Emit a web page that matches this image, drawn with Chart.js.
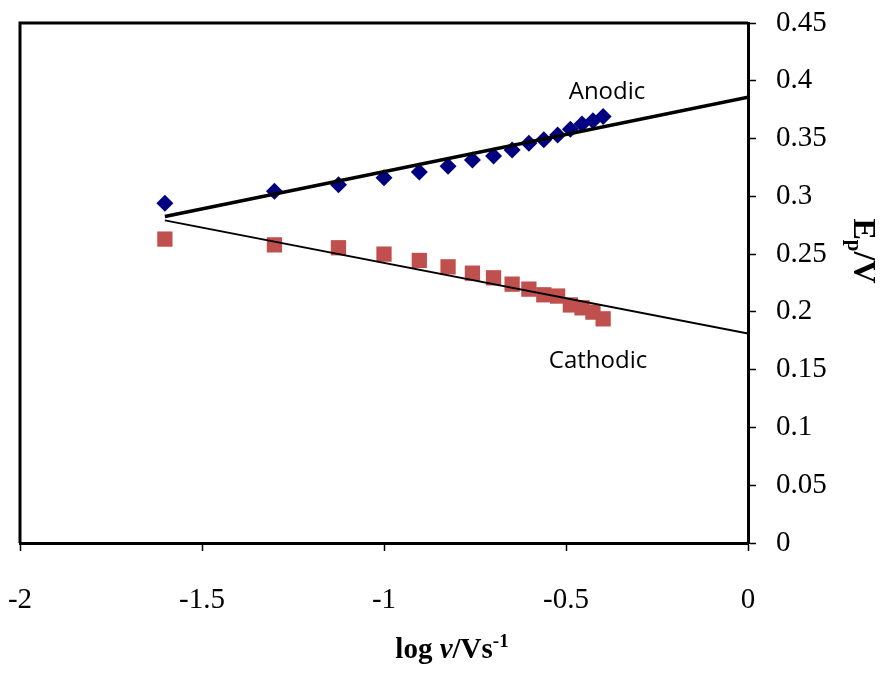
<!DOCTYPE html>
<html>
<head>
<meta charset="utf-8">
<script src="https://cdn.jsdelivr.net/npm/chart.js@4/dist/chart.umd.min.js"></script>
<style>
  html, body { margin: 0; padding: 0; background: #fff; }
  #wrap { width: 882px; height: 673px; position: relative; }
</style>
</head>
<body>
<div id="wrap"><canvas id="c" width="882" height="673"></canvas></div>
<script>
// ---- data ----
const logScanRate = [-1.602, -1.301, -1.125, -1.0, -0.903, -0.824, -0.757, -0.699, -0.648, -0.602, -0.561, -0.523, -0.488, -0.456, -0.426, -0.398];
const anodicEp    = [0.294, 0.3045, 0.310, 0.316, 0.321, 0.326, 0.3315, 0.335, 0.340, 0.346, 0.349, 0.353, 0.358, 0.3625, 0.3655, 0.369];
const cathodicEp  = [0.263, 0.258, 0.2555, 0.250, 0.2445, 0.239, 0.2335, 0.2295, 0.224, 0.2197, 0.2148, 0.2137, 0.206, 0.2035, 0.1998, 0.194];
const fitX        = [-1.602, 0];
const anodicFit   = [0.2826, 0.3857];
const cathodicFit = [0.2792, 0.1812];
const xTicks = [-2, -1.5, -1, -0.5, 0];
const yTicks = [0, 0.05, 0.1, 0.15, 0.2, 0.25, 0.3, 0.35, 0.4, 0.45];
const seriesLabels = ['Anodic', 'Cathodic'];

const toXY = (xs, ys) => xs.map((x, i) => ({ x: x, y: ys[i] }));

const framePlugin = {
  id: 'frame',
  afterDraw(chart) {
    const { ctx, chartArea: a } = chart;
    ctx.save();
    ctx.strokeStyle = '#000';
    ctx.lineWidth = 3;
    ctx.beginPath();
    ctx.moveTo(a.left, a.bottom);
    ctx.lineTo(a.left, a.top);
    ctx.lineTo(a.right, a.top);
    ctx.stroke();

    // series annotations
    ctx.fillStyle = '#000';
    ctx.font = '24px "Open Sans"';
    ctx.textAlign = 'center';
    ctx.textBaseline = 'alphabetic';
    ctx.fillText(seriesLabels[0], 607, 99);
    ctx.fillText(seriesLabels[1], 598, 368);

    // x axis title: log v/Vs-1
    const segs = [
      { t: 'log ', f: 'bold 29px "Liberation Serif"', dy: 0 },
      { t: 'v', f: 'bold italic 29px "Liberation Serif"', dy: 0 },
      { t: '/Vs', f: 'bold 29px "Liberation Serif"', dy: 0 },
      { t: '-1', f: 'bold 19px "Liberation Serif"', dy: -11 }
    ];
    ctx.textAlign = 'left';
    let total = 0;
    segs.forEach(s => { ctx.font = s.f; total += ctx.measureText(s.t).width; });
    let x = 452 - total / 2;
    segs.forEach(s => { ctx.font = s.f; ctx.fillText(s.t, x, 658 + s.dy); x += ctx.measureText(s.t).width; });

    // y axis title: Ep/V rotated clockwise
    ctx.translate(854, 251);
    ctx.rotate(Math.PI / 2);
    const ysegs = [
      { t: 'E', f: 'bold 32px "Liberation Serif"', dy: 0 },
      { t: 'p', f: 'bold 21px "Liberation Serif"', dy: 6 },
      { t: '/V', f: 'bold 32px "Liberation Serif"', dy: 0 }
    ];
    total = 0;
    ysegs.forEach(s => { ctx.font = s.f; total += ctx.measureText(s.t).width; });
    x = -total / 2;
    ysegs.forEach(s => { ctx.font = s.f; ctx.fillText(s.t, x, 0 + s.dy); x += ctx.measureText(s.t).width; });
    ctx.restore();
  }
};

new Chart(document.getElementById('c'), {
  type: 'scatter',
  data: {
    datasets: [
      { label: seriesLabels[0], data: toXY(logScanRate, anodicEp), pointStyle: 'rectRot', pointRadius: 8.5,
        backgroundColor: '#000080', borderColor: '#000080', borderWidth: 0, order: 1 },
      { label: seriesLabels[1], data: toXY(logScanRate, cathodicEp), pointStyle: 'rect', pointRadius: 10.8,
        backgroundColor: '#C0504D', borderColor: '#C0504D', borderWidth: 0, order: 1 },
      { type: 'line', label: 'Anodic fit', data: toXY(fitX, anodicFit), borderColor: '#000', borderWidth: 3.5,
        pointRadius: 0, fill: false, order: 0 },
      { type: 'line', label: 'Cathodic fit', data: toXY(fitX, cathodicFit), borderColor: '#000', borderWidth: 2,
        pointRadius: 0, fill: false, order: 0 }
    ]
  },
  options: {
    responsive: false,
    animation: false,
    devicePixelRatio: 1,
    layout: { padding: { left: 20, top: 23, right: 0, bottom: 0 } },
    plugins: { legend: { display: false }, tooltip: { enabled: false } },
    scales: {
      x: {
        type: 'linear', position: 'bottom', min: -2, max: 0,
        afterBuildTicks: s => { s.ticks = xTicks.map(v => ({ value: v })); },
        afterFit: s => { s.height = 130; s.paddingLeft = 0; s.paddingRight = 0; },
        grid: { drawOnChartArea: false, drawTicks: true, tickLength: 8, color: '#000', tickWidth: 1.5 },
        border: { display: true, color: '#000', width: 3 },
        ticks: { color: '#000', font: { family: '"Liberation Serif"', size: 29 }, padding: 32, maxRotation: 0,
                 callback: v => String(v) }
      },
      y: {
        type: 'linear', position: 'right', min: 0, max: 0.45,
        afterBuildTicks: s => { s.ticks = yTicks.map(v => ({ value: v })); },
        afterFit: s => { s.width = 134; s.paddingTop = 0; s.paddingBottom = 0; },
        grid: { drawOnChartArea: false, drawTicks: true, tickLength: 8, color: '#000', tickWidth: 1.5 },
        border: { display: true, color: '#000', width: 3 },
        ticks: { color: '#000', font: { family: '"Liberation Serif"', size: 29 }, padding: 20,
                 callback: v => String(v) }
      }
    }
  },
  plugins: [framePlugin]
});
</script>
</body>
</html>
